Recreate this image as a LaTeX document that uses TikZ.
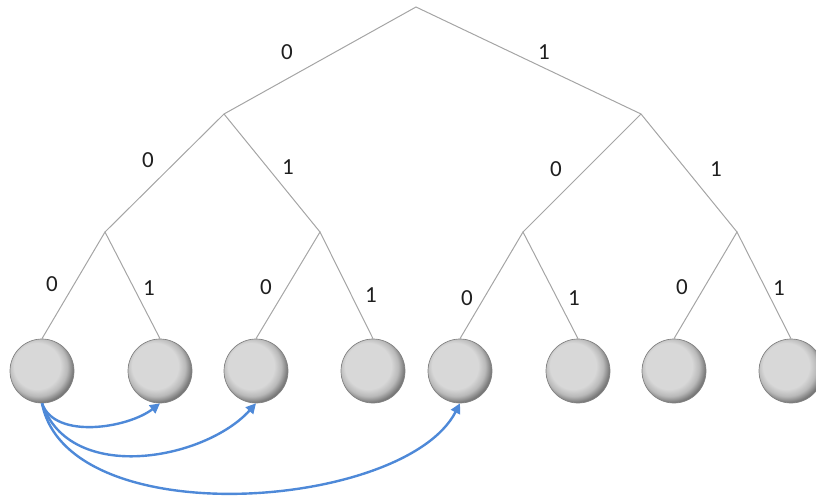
\documentclass[tikz,border=0pt]{standalone}
\usepackage{fontspec}
\setmainfont{Carlito}
\usetikzlibrary{arrows.meta}
\definecolor{ballLight}{RGB}{216,216,216}
\definecolor{ballMid}{RGB}{185,185,185}
\definecolor{ballDark}{RGB}{85,85,85}
\definecolor{ballEdge}{RGB}{130,130,130}
\definecolor{treeGray}{RGB}{165,165,165}
\definecolor{arrowBlue}{RGB}{78,137,216}
\pgfdeclareradialshading{ballshade}{\pgfpoint{-6bp}{6bp}}{%
  color(0bp)=(ballLight); color(18bp)=(ballLight); color(23bp)=(ballMid);
  color(27bp)=(ballDark!70!ballLight); color(31bp)=(ballDark); color(50bp)=(ballDark)}
\tikzset{
  ballnode/.style={circle, minimum size=64pt, inner sep=0pt, draw=ballEdge, line width=0.7pt, shading=ballshade},
  treeline/.style={draw=treeGray, line width=1pt},
  bitlabel/.style={font=\fontsize{23}{23}\selectfont, text=black!88, inner sep=0pt},
  jump/.style={draw=arrowBlue, line width=2.4pt, -{Triangle[length=10pt,width=10pt]}}
}
\begin{document}
\begin{tikzpicture}[x=1pt,y=-1pt]
\clip (0,0) rectangle (816,497);
% tree points
\coordinate (r) at (416,7);
\coordinate (a) at (224,114);
\coordinate (b) at (641,114);
\coordinate (aa) at (105,232);
\coordinate (ab) at (320,232);
\coordinate (ba) at (523,232);
\coordinate (bb) at (737,232);
% balls
\node[ballnode] (n1) at (42,371) {};
\node[ballnode] (n2) at (160,371) {};
\node[ballnode] (n3) at (256,371) {};
\node[ballnode] (n4) at (373,371) {};
\node[ballnode] (n5) at (460,371) {};
\node[ballnode] (n6) at (578,371) {};
\node[ballnode] (n7) at (674,371) {};
\node[ballnode] (n8) at (791,371) {};
% tree edges
\draw[treeline] (a) -- (r) -- (b);
\draw[treeline] (aa) -- (a) -- (ab);
\draw[treeline] (ba) -- (b) -- (bb);
\draw[treeline] (n1.north) -- (aa) -- (n2.north);
\draw[treeline] (n3.north) -- (ab) -- (n4.north);
\draw[treeline] (n5.north) -- (ba) -- (n6.north);
\draw[treeline] (n7.north) -- (bb) -- (n8.north);
% labels
\node[bitlabel] (l0) at (287,52) {0};
\node[bitlabel] (l1) at (544,52) {1};
\node[bitlabel] (la0) at (148,160) {0};
\node[bitlabel] (la1) at (288,167) {1};
\node[bitlabel] (lb0) at (556,169) {0};
\node[bitlabel] (lb1) at (716,169) {1};
\node[bitlabel] (laa0) at (52,284) {0};
\node[bitlabel] (laa1) at (149,288) {1};
\node[bitlabel] (lab0) at (266,287) {0};
\node[bitlabel] (lab1) at (371,295) {1};
\node[bitlabel] (lba0) at (467,298) {0};
\node[bitlabel] (lba1) at (574,298) {1};
\node[bitlabel] (lbb0) at (682,287) {0};
\node[bitlabel] (lbb1) at (779,288) {1};
% jumps
\draw[jump] (n1.south) .. controls (55,440) and (128,428) .. (n2.south);
\draw[jump] (n1.south) .. controls (70,485) and (205,460) .. (n3.south);
\draw[jump] (n1.south) .. controls (68,535) and (405,510) .. (n5.south);
\end{tikzpicture}
\end{document}
